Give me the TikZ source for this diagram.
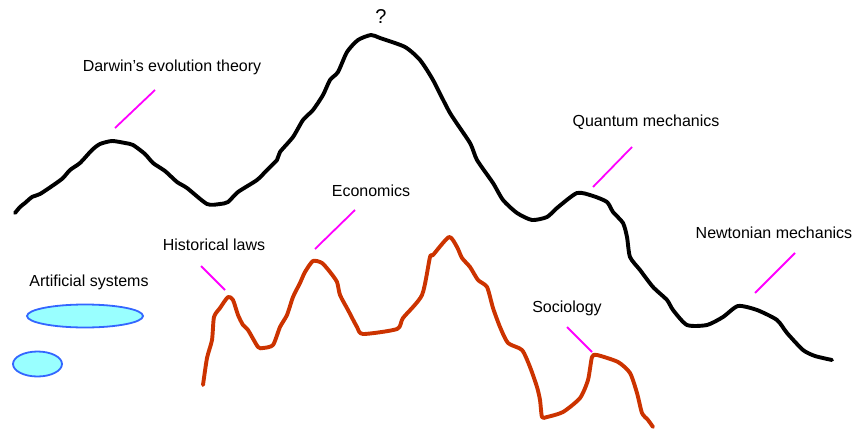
\documentclass[tikz,border=0pt]{standalone}
\usepackage{fontspec}
\setmainfont{Liberation Sans}
\definecolor{ridgered}{HTML}{CC3300}
\definecolor{lblline}{HTML}{FF00FF}
\definecolor{ellfill}{HTML}{99FFFF}
\definecolor{elldraw}{HTML}{3366FF}
\tikzset{
  ridge/.style={line width=3.9pt, line join=round, line cap=round},
  lbl/.style={font=\fontsize{16}{18}\selectfont, inner sep=0pt, anchor=center},
  pointer/.style={draw=lblline, line width=1.8pt},
  blob/.style={draw=elldraw, fill=ellfill, line width=1.8pt}
}
\begin{document}
\begin{tikzpicture}[x=1pt,y=-1pt]
\useasboundingbox (0,0) rectangle (853,428);
% black ridge
\draw[ridge, black] plot[smooth, tension=0.4] coordinates {
(15,213) (20,207) (25,203) (32,197) (40,194) (55,184) (63,178) (70,170) (80,163) (92,150) (100,144) (112,141) (125,143) (133,145) (145,154) (153,163) (165,171) (177,182) (187,188) (207,204) (220,204) (228,202) (238,192) (257,180) (267,170) (277,160) (280,152) (293,137) (303,120) (313,110) (323,95) (330,80) (338,72) (347,52) (358,40) (371,35) (380,38) (405,47) (420,60) (433,80) (450,113) (470,143) (477,160) (493,183) (503,200) (517,213) (532,220) (547,217) (557,208) (577,193) (593,196) (607,202) (613,212) (623,223) (627,237) (630,257) (640,270) (653,287) (667,300) (673,310) (687,325) (707,325) (723,317) (738,306) (757,310) (777,320) (787,333) (803,350) (815,356) (832,360)};
% red ridge
\draw[ridge, ridgered] plot[smooth, tension=0.4] coordinates {
(203,385) (207,358) (212,340) (214,317) (220,308) (228,297) (233,300) (238,315) (243,325) (248,330) (258,347) (263,348) (273,345) (280,327) (287,315) (293,297) (300,283) (305,272) (313,261) (322,263) (330,272) (337,282) (340,295) (348,310) (357,327) (363,334) (397,329) (403,318) (422,295) (430,257) (433,255) (449,237) (457,247) (462,258) (470,267) (478,280) (487,287) (493,308) (500,327) (508,343) (522,350) (530,367) (537,387) (540,400) (542,417) (547,417) (563,412) (580,398) (588,380) (592,357) (597,355) (618,362) (630,373) (637,393) (642,413) (648,420) (653,427)};
% labels
\node[lbl, font=\fontsize{20}{22}\selectfont] (q) at (381,17) {?};
\node[lbl] (darwin) at (172,67) {Darwin’s evolution theory};
\node[lbl] (quantum) at (646,122) {Quantum mechanics};
\node[lbl] (econ) at (371,191) {Economics};
\node[lbl] (hist) at (214,245) {Historical laws};
\node[lbl] (newton) at (774,233) {Newtonian mechanics};
\node[lbl] (artif) at (89,282) {Artificial systems};
\node[lbl] (socio) at (567,308) {Sociology};
% pointer lines
\coordinate (d1) at (155,90); \coordinate (d2) at (115,128);
\coordinate (q1) at (632,147); \coordinate (q2) at (593,187);
\coordinate (e1) at (355,210); \coordinate (e2) at (315,249);
\coordinate (h1) at (201,266); \coordinate (h2) at (225,290);
\coordinate (n1) at (795,253); \coordinate (n2) at (755,293);
\coordinate (s1) at (567,327); \coordinate (s2) at (592,352);
\draw[pointer] (d1) -- (d2);
\draw[pointer] (q1) -- (q2);
\draw[pointer] (e1) -- (e2);
\draw[pointer] (h1) -- (h2);
\draw[pointer] (n1) -- (n2);
\draw[pointer] (s1) -- (s2);
% ellipses
\draw[blob] (85,316) ellipse [x radius=58, y radius=11.5];
\draw[blob] (37.5,364) ellipse [x radius=24.5, y radius=12.5];
\end{tikzpicture}
\end{document}
